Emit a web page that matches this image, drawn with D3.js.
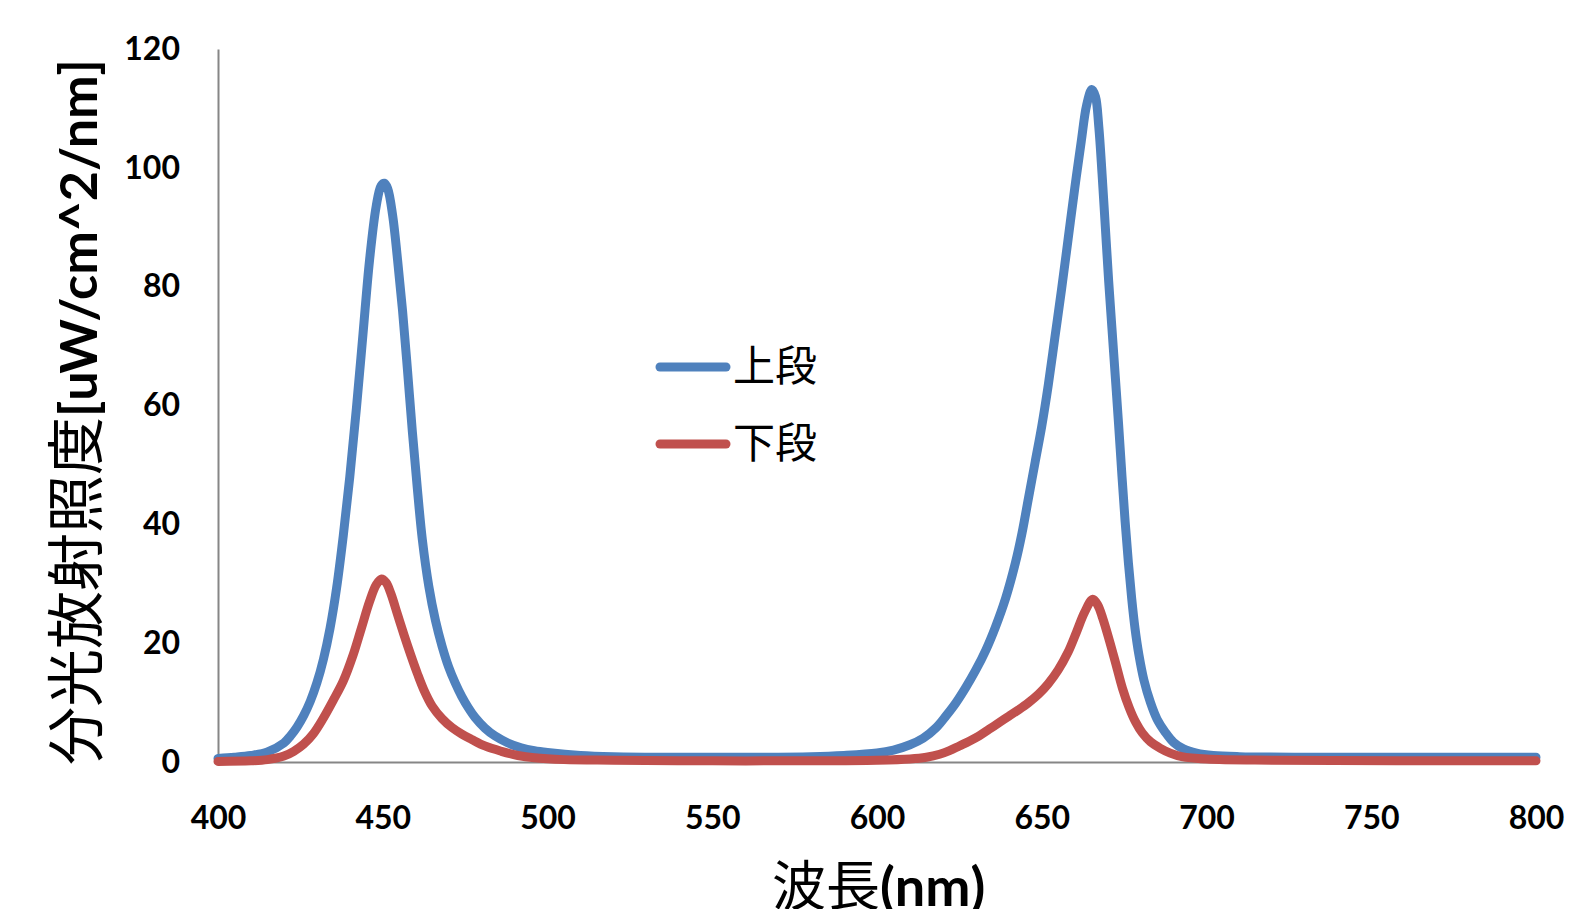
<!DOCTYPE html>
<html>
<head>
<meta charset="utf-8">
<script src="https://cdn.jsdelivr.net/npm/d3@7"></script>
<style>
  body { margin: 0; background: #fff; }
  svg { display: block; }
  .tick text { font-family: Lato, "Liberation Sans", sans-serif; font-weight: bold; font-size: 32px; fill: #000; }
</style>
</head>
<body>
<div id="chart"></div>
<script>
// axis setup
var xTicks = [400, 450, 500, 550, 600, 650, 700, 750, 800];
var yTicks = [0, 20, 40, 60, 80, 100, 120];
var seriesNames = ["上段", "下段"];
var seriesColors = ["#4F81BD", "#C0504D"];

// 上段 : [wavelength nm, uW/cm^2/nm]
var upper = [
  [400,0.6],[405,0.8],[410,1.1],[415,1.7],[420,3.2],[422,4.4],[424,5.9],[426,7.8],
  [428,10.2],[430,13.3],[432,17.3],[434,22.5],[436,29.3],[438,38],[440,48],[442,59.5],
  [444,72],[446,84.5],[448,93.5],[449.5,97],[450.5,97.4],[451.5,96.5],[453,92],[454.5,84.5],
  [456,76],[457.5,66],[459,55.5],[460.5,46],[462,37.5],[464,29.5],[466,23.8],[468,19.5],
  [470,16],[472,13.3],[474,11],[476,9.1],[478,7.5],[481,5.7],[484,4.4],[488,3.2],
  [492,2.4],[496,1.9],[500,1.6],[510,1.1],[520,0.9],[540,0.8],[560,0.8],[580,0.9],
  [590,1.1],[600,1.5],[605,2.0],[610,2.9],[614,4.0],[618,5.8],[621,7.8],[624,10],
  [627,12.6],[630,15.5],[633,18.8],[636,22.8],[639,27.5],[642,33.5],[644,38.5],[646,44.5],
  [648,50.5],[650,56.5],[652,63.5],[654,71.5],[656,79.5],[658,88],[660,96.5],[662,104.5],
  [663.6,110.5],[665.2,113.2],[666.3,112],[667.3,107],[668.3,99],[669.3,90],[670.3,81],[671.3,73],
  [672.3,65],[673.3,57],[674.3,48.5],[675.3,40.5],[676.3,33.5],[677.3,27.5],[678.3,22.5],[679.5,18],
  [681,13.8],[683,10],[685,7.2],[687.5,5.0],[690,3.3],[693,2.2],[697,1.5],[702,1.1],
  [710,0.9],[730,0.8],[760,0.8],[800,0.8]
];

// 下段
var lower = [
  [400,0.1],[410,0.2],[415,0.4],[420,1.0],[423,1.8],[426,3.0],[429,4.8],[432,7.4],
  [435,10.4],[438,13.6],[441,18],[443.5,22.5],[446,27],[448,29.8],[449.6,30.8],[451,30.2],
  [452.5,28.3],[454.5,24.8],[456.5,21.3],[458.5,18],[460.5,14.9],[462.5,12.1],[465,9.4],[468,7.3],
  [471,5.8],[474,4.7],[477,3.8],[481,2.7],[486,1.8],[491,1.1],[496,0.7],[505,0.4],
  [520,0.3],[550,0.2],[580,0.2],[600,0.3],[610,0.5],[615,0.8],[619,1.3],[622,1.9],
  [625,2.7],[628,3.5],[631,4.4],[634,5.5],[637,6.6],[640,7.7],[643,8.8],[646,10],
  [649,11.4],[652,13.2],[655,15.5],[658,18.5],[660.5,21.8],[663,25.2],[665.5,27.4],[667,26.4],
  [668.5,24.2],[670.5,20.5],[672.5,16.5],[674.5,12.4],[676.5,9.2],[678.5,6.7],[680.5,4.9],[683,3.4],
  [686,2.3],[689,1.5],[692.5,0.9],[700,0.5],[720,0.3],[800,0.2]
];

var width = 1573, height = 909;

var svg = d3.select("#chart")
  .append("svg")
  .attr("width", width)
  .attr("height", height);

var x = d3.scaleLinear().domain([400, 800]).range([218, 1536]);
var y = d3.scaleLinear().domain([0, 120]).range([762, 49]);

// x axis
var gx = svg.append("g")
  .attr("transform", "translate(0," + y(0) + ")")
  .call(d3.axisBottom(x).tickValues(xTicks).tickSize(0).tickPadding(44));
gx.select(".domain").attr("stroke", "#868686").attr("stroke-width", 2);

// y axis
var gy = svg.append("g")
  .attr("transform", "translate(" + x(400) + ",0)")
  .call(d3.axisLeft(y).tickValues(yTicks).tickSize(0).tickPadding(38));
gy.select(".domain").attr("stroke", "#868686").attr("stroke-width", 2);

var line = d3.line()
  .x(function (d) { return x(d[0]); })
  .y(function (d) { return y(d[1]); })
  .curve(d3.curveCatmullRom.alpha(0.5));

[upper, lower].forEach(function (s, i) {
  svg.append("path")
    .datum(s)
    .attr("fill", "none")
    .attr("stroke", seriesColors[i])
    .attr("stroke-width", 9)
    .attr("stroke-linejoin", "round")
    .attr("stroke-linecap", "round")
    .attr("d", line);
});

// legend
var legend = svg.selectAll(".legend")
  .data(seriesNames)
  .enter().append("g")
  .attr("class", "legend")
  .attr("transform", function (d, i) { return "translate(656," + (367 + i * 77) + ")"; });

legend.append("line")
  .attr("x1", 4).attr("x2", 70)
  .attr("stroke", function (d, i) { return seriesColors[i]; })
  .attr("stroke-width", 9)
  .attr("stroke-linecap", "round");

legend.append("text")
  .attr("x", 77)
  .attr("y", 14)
  .style("font-family", "'Noto Sans CJK JP'")
  .style("font-size", "42px")
  .style("fill", "#000")
  .text(function (d) { return d; });

// axis titles
var yTitle = svg.append("text")
  .attr("transform", "translate(97,765) rotate(-90)")
  .style("fill", "#000");
yTitle.append("tspan")
  .style("font-family", "'Noto Sans CJK JP'")
  .style("font-size", "58px")
  .text("分光放射照度");
yTitle.append("tspan")
  .style("font-family", "Lato, sans-serif")
  .style("font-weight", "bold")
  .style("font-size", "52px")
  .text("[uW/cm^2/nm]");

var xTitle = svg.append("text")
  .attr("x", 772)
  .attr("y", 906)
  .style("fill", "#000");
xTitle.append("tspan")
  .style("font-family", "'Noto Sans CJK JP'")
  .style("font-size", "54px")
  .text("波長");
xTitle.append("tspan")
  .style("font-family", "Lato, sans-serif")
  .style("font-weight", "bold")
  .style("font-size", "54px")
  .text("(nm)");
</script>
</body>
</html>
